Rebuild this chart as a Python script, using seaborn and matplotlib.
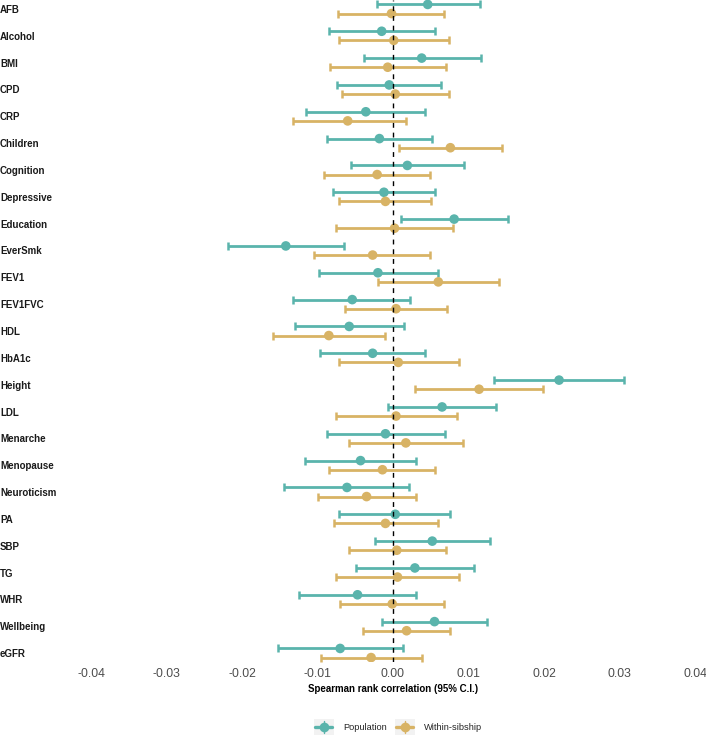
import numpy as np
import pandas as pd
import matplotlib
matplotlib.use('Agg')
import matplotlib.pyplot as plt
import seaborn as sns
from matplotlib.legend_handler import HandlerBase
from matplotlib.patches import Rectangle
from matplotlib.lines import Line2D

# 1. DATA
traits = ['AFB', 'Alcohol', 'BMI', 'CPD', 'CRP', 'Children', 'Cognition', 'Depressive',
          'Education', 'EverSmk', 'FEV1', 'FEV1FVC', 'HDL', 'HbA1c', 'Height', 'LDL',
          'Menarche', 'Menopause', 'Neuroticism', 'PA', 'SBP', 'TG', 'WHR', 'Wellbeing', 'eGFR']

pop_est = [0.0046, -0.0015, 0.0038, -0.0005, -0.0036, -0.0018, 0.0019, -0.0012, 0.0081, -0.0142,
           -0.0020, -0.0054, -0.0058, -0.0027, 0.0220, 0.0065, -0.0010, -0.0043, -0.0061, 0.0003,
           0.0052, 0.0029, -0.0047, 0.0055, -0.0070]
pop_lo = [-0.0021, -0.0085, -0.0039, -0.0074, -0.0115, -0.0088, -0.0055, -0.0079, 0.0010, -0.0218,
          -0.0098, -0.0132, -0.0130, -0.0097, 0.0134, -0.0007, -0.0088, -0.0117, -0.0144, -0.0071,
          -0.0024, -0.0049, -0.0124, -0.0014, -0.0152]
pop_hi = [0.0115, 0.0055, 0.0116, 0.0064, 0.0043, 0.0052, 0.0094, 0.0055, 0.0152, -0.0065,
          0.0059, 0.0023, 0.0015, 0.0043, 0.0306, 0.0137, 0.0069, 0.0030, 0.0021, 0.0076,
          0.0129, 0.0107, 0.0030, 0.0124, 0.0013]

sib_est = [-0.0002, 0.0001, -0.0007, 0.0003, -0.0060, 0.0076, -0.0021, -0.0010, 0.0002, -0.0027,
           0.0060, 0.0004, -0.0085, 0.0007, 0.0114, 0.0004, 0.0017, -0.0014, -0.0035, -0.0010,
           0.0005, 0.0006, -0.0001, 0.0018, -0.0029]
sib_lo = [-0.0073, -0.0071, -0.0083, -0.0068, -0.0133, 0.0008, -0.0092, -0.0071, -0.0075, -0.0104,
          -0.0020, -0.0064, -0.0159, -0.0072, 0.0029, -0.0076, -0.0058, -0.0085, -0.0099, -0.0078,
          -0.0058, -0.0076, -0.0070, -0.0040, -0.0095]
sib_hi = [0.0068, 0.0074, 0.0070, 0.0074, 0.0017, 0.0145, 0.0049, 0.0051, 0.0079, 0.0049,
          0.0140, 0.0072, -0.0011, 0.0087, 0.0199, 0.0085, 0.0093, 0.0055, 0.0030, 0.0059,
          0.0070, 0.0088, 0.0067, 0.0076, 0.0038]

groups = ['Population', 'Within-sibship']
palette = {'Population': '#5AB4AC', 'Within-sibship': '#D8B365'}
x_ticks = [-0.04, -0.03, -0.02, -0.01, 0.00, 0.01, 0.02, 0.03, 0.04]

# 2. LONG TABLE
dodge = {'Population': -0.17, 'Within-sibship': 0.17}
frames = []
for g, est, lo, hi in [('Population', pop_est, pop_lo, pop_hi),
                       ('Within-sibship', sib_est, sib_lo, sib_hi)]:
    frames.append(pd.DataFrame({'trait': traits, 'group': g, 'est': est, 'lo': lo, 'hi': hi,
                                'pos': np.arange(len(traits)) + dodge[g]}))
df = pd.concat(frames, ignore_index=True)

# 3. PLOT
sns.set_theme(style='white')
plt.rcParams['font.family'] = ['Liberation Sans', 'DejaVu Sans']

W, H = 706, 738
fig = plt.figure(figsize=(W / 100, H / 100), dpi=100)
ax = fig.add_axes([82 / W, 1 - 662 / H, 622 / W, 662 / H])

for g in groups:
    sub = df[df['group'] == g]
    ax.errorbar(sub['est'], sub['pos'], xerr=[sub['est'] - sub['lo'], sub['hi'] - sub['est']],
                fmt='none', ecolor=palette[g], elinewidth=2.0, capsize=2.8, capthick=1.8, zorder=2)

sns.scatterplot(data=df, x='est', y='pos', hue='group', palette=palette, s=48,
                edgecolor='none', legend=False, ax=ax, zorder=3)

ax.axvline(0, color='black', ls=(0, (3.5, 3.5)), lw=1.0, zorder=4)

ax.set_xlim(-0.0412, 0.0412)
ax.set_ylim(len(traits) - 1 + 0.335, -0.335)
ax.set_xticks(x_ticks)
ax.set_xticklabels([f"{abs(v):.2f}" if v == 0 else f"{v:.2f}" for v in x_ticks])
ax.set_yticks(range(len(traits)))
ax.set_yticklabels(traits, fontweight='bold', fontsize=7, ha='left', color='#1a1a1a')
ax.tick_params(axis='y', length=0, pad=59)
ax.tick_params(axis='x', length=3, width=0.9, color='#333333', labelsize=8.8,
               labelcolor='#4D4D4D', pad=1.5)
for s in ax.spines.values():
    s.set_visible(False)
ax.set_ylabel('')
ax.set_xlabel('Spearman rank correlation (95% C.I.)', fontweight='bold', fontsize=7,
              labelpad=3, color='black')


# 4. LEGEND with ggplot-like keys
class KeyHandler(HandlerBase):
    def create_artists(self, legend, orig_handle, xd, yd, width, height, fontsize, trans):
        c = orig_handle.get_color()
        x0, y0 = -xd, -yd
        cx, cy = x0 + width / 2, y0 + height / 2
        bg = Rectangle((x0, y0), width, height, fc='#F2F2F2', ec='none', transform=trans)
        hl = Line2D([x0 + 1, x0 + width - 1], [cy, cy], color=c, lw=2.4, transform=trans)
        vl = Line2D([cx, cx], [y0 + 1, y0 + height - 1], color=c, lw=1.0, transform=trans)
        mk = Line2D([cx], [cy], marker='o', ms=7, color=c, mec='none', transform=trans)
        return [bg, hl, vl, mk]


handles = [Line2D([], [], color=palette[g], label=g) for g in groups]
fig.legend(handles=handles, loc='center', bbox_to_anchor=(398 / W, 1 - 727 / H), ncol=2,
           frameon=False, fontsize=6.7, handlelength=2.15, handleheight=2.15,
           handletextpad=1.0, columnspacing=0.85, borderpad=0,
           handler_map={Line2D: KeyHandler()})

fig.savefig('out.png', dpi=100)
